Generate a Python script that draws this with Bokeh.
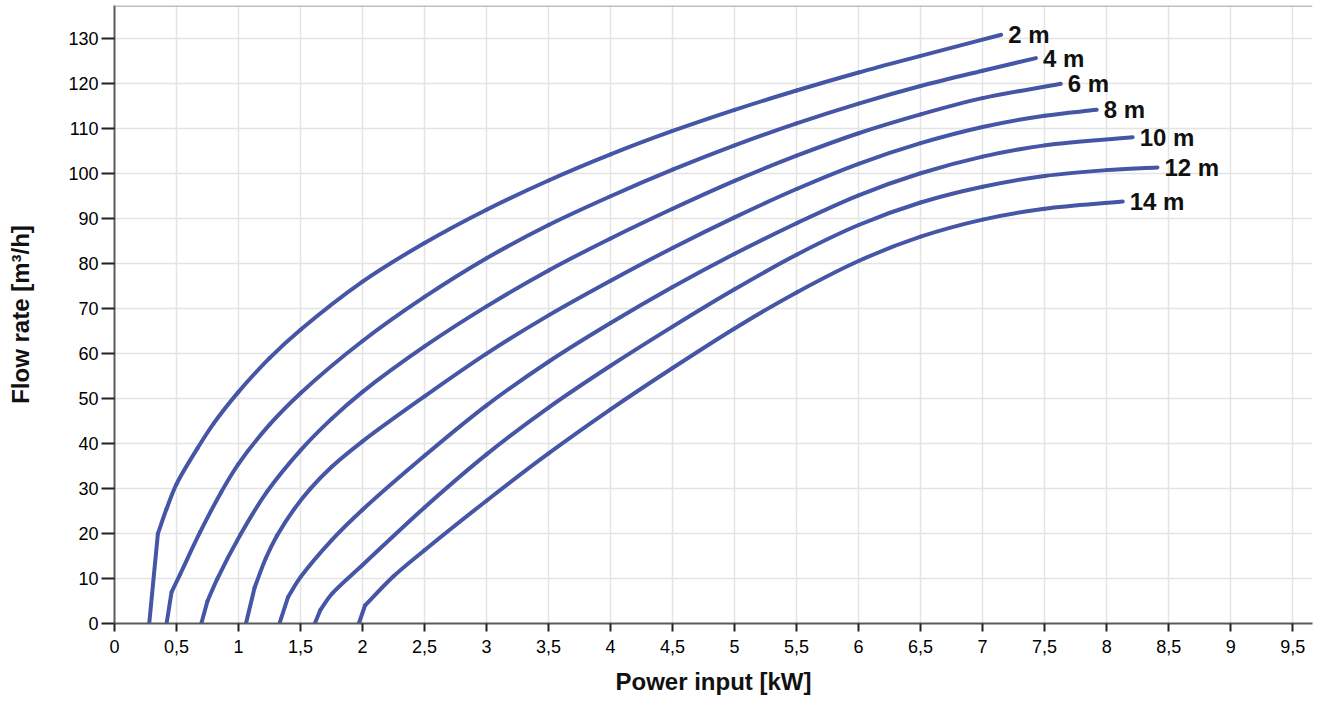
from bokeh.plotting import figure
from bokeh.models import Range1d, FixedTicker, CustomJSTickFormatter, Span
from bokeh.embed import file_html
from bokeh.resources import INLINE
from bokeh.core.properties import value

# ---------------- data ----------------
x_ticks = [0, 0.5, 1, 1.5, 2, 2.5, 3, 3.5, 4, 4.5, 5, 5.5, 6, 6.5, 7, 7.5, 8, 8.5, 9, 9.5]
x_tick_labels = ["0", "0,5", "1", "1,5", "2", "2,5", "3", "3,5", "4", "4,5", "5",
                 "5,5", "6", "6,5", "7", "7,5", "8", "8,5", "9", "9,5"]
y_ticks = [0, 10, 20, 30, 40, 50, 60, 70, 80, 90, 100, 110, 120, 130]

series_names = ["2 m", "4 m", "6 m", "8 m", "10 m", "12 m", "14 m"]

h2_x = [0.28, 0.35, 0.42, 0.5, 0.67, 0.8, 1.0, 1.25, 1.5, 2.0, 2.5, 3.0, 3.5, 4.0, 4.5, 5.0, 5.5, 6.0, 6.5, 7.15]
h2_y = [0, 20, 25.5, 31, 39, 44.5, 51.5, 59, 65.3, 76, 84.6, 92, 98.5, 104.3, 109.5, 114.2, 118.5, 122.5, 126.2, 130.9]

h4_x = [0.42, 0.46, 0.53, 0.69, 0.86, 1.0, 1.25, 1.5, 2.0, 2.5, 3.0, 3.5, 4.0, 4.5, 5.0, 5.5, 6.0, 6.5, 7.0, 7.43]
h4_y = [0, 7, 11, 20.3, 29.2, 35.5, 44.2, 51.2, 62.8, 72.6, 81.2, 88.6, 95, 100.9, 106.3, 111.2, 115.6, 119.5, 122.9, 125.7]

h6_x = [0.70, 0.75, 0.83, 1.016, 1.23, 1.5, 1.75, 2.0, 2.5, 3.0, 3.5, 4.0, 4.5, 5.0, 5.5, 6.0, 6.5, 7.0, 7.63]
h6_y = [0, 5, 10, 19.8, 29.3, 38.5, 45.5, 51.5, 61.6, 70.5, 78.5, 85.6, 92.2, 98.4, 104, 109, 113.2, 116.8, 120]

h8_x = [1.06, 1.13, 1.22, 1.31, 1.45, 1.58, 1.75, 2.0, 2.5, 3.0, 3.5, 4.0, 4.5, 5.0, 5.5, 6.0, 6.5, 7.0, 7.5, 7.92]
h8_y = [0, 8, 14.5, 19.5, 25.5, 30, 34.8, 40.5, 50.5, 60, 68.5, 76.2, 83.5, 90.3, 96.6, 102.2, 106.8, 110.4, 112.9, 114.2]

h10_x = [1.33, 1.40, 1.5, 1.75, 2.0, 2.5, 3.0, 3.5, 4.0, 4.5, 5.0, 5.5, 6.0, 6.5, 7.0, 7.5, 8.21]
h10_y = [0, 5.9, 10.3, 18.5, 25.3, 37.3, 48.5, 58.2, 66.8, 74.8, 82.2, 89, 95.2, 100.1, 103.8, 106.3, 108.1]

h12_x = [1.615, 1.66, 1.75, 2.0, 2.5, 3.0, 3.5, 4.0, 4.5, 5.0, 5.5, 6.0, 6.5, 7.0, 7.5, 8.0, 8.41]
h12_y = [0, 3, 6.5, 13, 25.8, 37.6, 48, 57.3, 66, 74.3, 82, 88.6, 93.6, 97.1, 99.5, 100.8, 101.4]

h14_x = [1.97, 2.02, 2.25, 2.5, 3.0, 3.5, 4.0, 4.5, 5.0, 5.5, 6.0, 6.5, 7.0, 7.5, 8.13]
h14_y = [0, 4, 10.5, 16.3, 27.3, 37.8, 47.6, 56.8, 65.6, 73.6, 80.6, 86, 89.8, 92.2, 93.8]

all_x = [h2_x, h4_x, h6_x, h8_x, h10_x, h12_x, h14_x]
all_y = [h2_y, h4_y, h6_y, h8_y, h10_y, h12_y, h14_y]

# ---------------- style ----------------
LINE_COLOR = "#4656a6"
FONT = "Liberation Sans"
PX_X = 124.0   # screen px per kW (for curve smoothing only)
PX_Y = 4.498   # screen px per m3/h


def smooth_segments(xs, ys):
    """Centripetal Catmull-Rom through the read points, returned as cubic
    Bezier segments (data coordinates). Used only to draw a smooth stroke."""
    P = [(x * PX_X, y * PX_Y) for x, y in zip(xs, ys)]
    n = len(P)
    out = {k: [] for k in ("x0", "y0", "x1", "y1", "cx0", "cy0", "cx1", "cy1")}

    def d(a, b):
        return max(((a[0] - b[0]) ** 2 + (a[1] - b[1]) ** 2) ** 0.25, 1e-6)

    for i in range(n - 1):
        p1, p2 = P[i], P[i + 1]
        p0 = P[i - 1] if i > 0 else (2 * p1[0] - p2[0], 2 * p1[1] - p2[1])
        p3 = P[i + 2] if i + 2 < n else (2 * p2[0] - p1[0], 2 * p2[1] - p1[1])
        t0, t1, t2 = d(p0, p1), d(p1, p2), d(p2, p3)
        m1 = [((p1[k] - p0[k]) / t0 - (p2[k] - p0[k]) / (t0 + t1) + (p2[k] - p1[k]) / t1) * t1 for k in (0, 1)]
        m2 = [((p2[k] - p1[k]) / t1 - (p3[k] - p1[k]) / (t1 + t2) + (p3[k] - p2[k]) / t2) * t1 for k in (0, 1)]
        c1 = (p1[0] + m1[0] / 3, p1[1] + m1[1] / 3)
        c2 = (p2[0] - m2[0] / 3, p2[1] - m2[1] / 3)
        out["x0"].append(p1[0] / PX_X); out["y0"].append(p1[1] / PX_Y)
        out["x1"].append(p2[0] / PX_X); out["y1"].append(p2[1] / PX_Y)
        out["cx0"].append(c1[0] / PX_X); out["cy0"].append(c1[1] / PX_Y)
        out["cx1"].append(c2[0] / PX_X); out["cy1"].append(c2[1] / PX_Y)
    return out


p = figure(width=1320, height=701, output_backend="svg", toolbar_location=None,
           x_range=Range1d(0, 9.66), y_range=Range1d(0, 137.4))
p.min_border_left = 114
p.min_border_right = 8
p.min_border_top = 5
p.min_border_bottom = 78
p.outline_line_color = None
p.background_fill_color = "white"
p.border_fill_color = "white"

p.xaxis.ticker = FixedTicker(ticks=x_ticks)
p.xaxis.formatter = CustomJSTickFormatter(args=dict(tick_values=x_ticks, tick_labels=x_tick_labels), code="""
    for (let i = 0; i < tick_values.length; i++) {
        if (Math.abs(tick_values[i] - tick) < 1e-9) { return tick_labels[i]; }
    }
    return "";
""")
p.yaxis.ticker = FixedTicker(ticks=y_ticks)
p.xgrid.ticker = FixedTicker(ticks=x_ticks)
p.ygrid.ticker = FixedTicker(ticks=y_ticks)

for g in (p.xgrid, p.ygrid):
    g.grid_line_color = "#e4e4e4"
    g.grid_line_width = 1.5

for ax in (p.xaxis, p.yaxis):
    ax.axis_line_color = "#5a5a5a"
    ax.axis_line_width = 2
    ax.major_tick_line_color = "#222222"
    ax.major_tick_line_width = 2
    ax.major_tick_in = 0
    ax.minor_tick_line_color = None
    ax.major_label_text_font = FONT
    ax.major_label_text_font_size = "18px"
    ax.major_label_text_color = "#000000"
    ax.axis_label_text_font = FONT
    ax.axis_label_text_font_size = "24px"
    ax.axis_label_text_font_style = "bold"
    ax.axis_label_text_color = "#111111"

p.xaxis.major_tick_out = 8
p.xaxis.major_label_standoff = 8
p.xaxis.axis_label = "Power input [kW]"
p.xaxis.axis_label_standoff = 12

p.yaxis.major_tick_out = 13
p.yaxis.major_label_standoff = 3
p.yaxis.axis_label = "Flow rate [m³/h]"
p.yaxis.axis_label_standoff = 31

p.add_layout(Span(location=137.3, dimension="width", line_color="#aaaaaa", line_width=1.5))

for xs, ys in zip(all_x, all_y):
    # straight foot of the curve (to the first kink), then a smooth stroke
    p.line(xs[:2], ys[:2], line_color=LINE_COLOR, line_width=4, line_join="round", line_cap="round")
    seg = smooth_segments(xs[1:], ys[1:])
    p.bezier(line_color=LINE_COLOR, line_width=4, line_cap="round", **seg)

p.text(x=[xs[-1] for xs in all_x], y=[ys[-1] for ys in all_y], text=series_names,
       x_offset=7, text_baseline="middle", text_align="left",
       text_font=value(FONT), text_font_style="bold", text_font_size="24px",
       text_color="#111111")

open("out.html", "w").write(file_html(p, INLINE))
